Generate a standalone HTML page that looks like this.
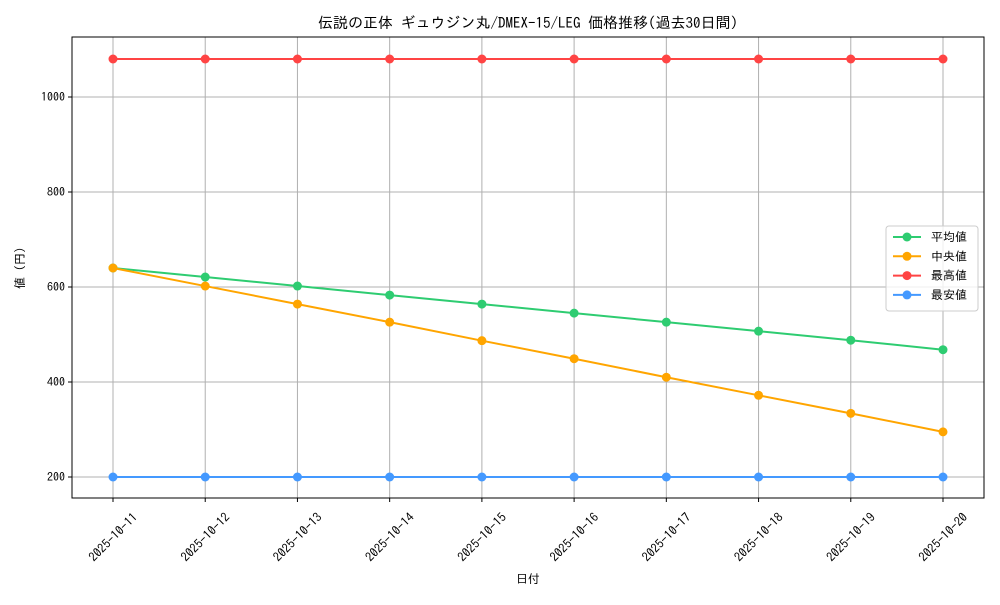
<!DOCTYPE html>
<html><head><meta charset="utf-8">
<style>
body{margin:0;background:#fff;}
svg text{font-family:"IPAGothic","Noto Sans CJK JP",sans-serif;fill:#000;}
</style></head>
<body>
<svg id="chart" width="1000" height="600" xmlns="http://www.w3.org/2000/svg">
<rect width="1000" height="600" fill="#fff"/>
<text x="528" y="28" font-size="15" text-anchor="middle">伝説の正体 ギュウジン丸/DMEX-15/LEG 価格推移(過去30日間)</text>
<g id="grid"></g>
<g id="axes"></g>
<g id="series"></g>
<rect x="72" y="37" width="912" height="461" fill="none" stroke="#000" stroke-width="1"/>
<text x="528" y="583" font-size="12" text-anchor="middle">日付</text>
<text x="24" y="268" font-size="12" text-anchor="middle" transform="rotate(-90 24 268)">値 (円)</text>
<g id="legend"></g>
</svg>
<script>
const categories=["2025-10-11","2025-10-12","2025-10-13","2025-10-14","2025-10-15","2025-10-16","2025-10-17","2025-10-18","2025-10-19","2025-10-20"];
const avgValues=[640,621,602,583,564,545,526,507,488,468];
const medianValues=[640,602,564,526,487,449,410,372,334,295];
const maxValues=[1080,1080,1080,1080,1080,1080,1080,1080,1080,1080];
const minValues=[200,200,200,200,200,200,200,200,200,200];
const yTicks=[200,400,600,800,1000];
const seriesNames=["平均値","中央値","最高値","最安値"];
const NS="http://www.w3.org/2000/svg";
function xs(i){return 113+i*(943-113)/(categories.length-1);}
function ys(v){return 477-(v-200)*0.475;}
function mk(tag,attrs,parent){const e=document.createElementNS(NS,tag);for(const k in attrs)e.setAttribute(k,attrs[k]);parent.appendChild(e);return e;}
const grid=document.getElementById('grid'),axes=document.getElementById('axes'),ser=document.getElementById('series'),leg=document.getElementById('legend');
categories.forEach((c,i)=>{
  const x=xs(i);
  const l=mk('line',{x1:x,x2:x,y1:37,y2:498,stroke:'#b0b0b0','stroke-width':1},grid);
  
  
  mk('line',{x1:x,x2:x,y1:498,y2:502,stroke:'#000'},axes);
  const t=mk('text',{x:x,y:537,'font-size':12.5,'text-anchor':'middle','dominant-baseline':'central',transform:`rotate(-45 ${x} 537)`},axes);
  
  
  t.textContent=c;
});
yTicks.forEach(v=>{
  const y=ys(v);
  const l=mk('line',{x1:72,x2:984,y1:y,y2:y,stroke:'#b0b0b0','stroke-width':1},grid);
  
  
  mk('line',{x1:68,x2:72,y1:y,y2:y,stroke:'#000'},axes);
  const t=mk('text',{x:65,y:y+4,'font-size':12,'text-anchor':'end'},axes);
  
  
  t.textContent=v;
});
const allSeries=[[avgValues,'#2ecc71'],[medianValues,'#ffa500'],[maxValues,'#ff4444'],[minValues,'#4499ff']];
allSeries.forEach(([vals,col],si)=>{
  const g=mk('g',{},ser);
  
  
  const p=mk('polyline',{points:vals.map((v,i)=>xs(i)+','+ys(v)).join(' '),fill:'none',stroke:col,'stroke-width':2},g);
  
  
  vals.forEach((v,i)=>{
    const c=mk('circle',{cx:xs(i),cy:ys(v),r:4.5,fill:col},g);
    
    
  });
});
mk('rect',{x:886,y:226,width:92,height:85,rx:3,fill:'#fff',stroke:'#ccc','fill-opacity':0.8},leg);
seriesNames.forEach((n,i)=>{
  const y=237+i*19.3,col=allSeries[i][1];
  const g=mk('g',{},leg);
  
  
  mk('line',{x1:893,x2:921,y1:y,y2:y,stroke:col,'stroke-width':2},g);
  mk('circle',{cx:907,cy:y,r:4.5,fill:col},g);
  const t=mk('text',{x:931,y:y+4,'font-size':12},g);
  t.textContent=n;
});
</script>
</body></html>
